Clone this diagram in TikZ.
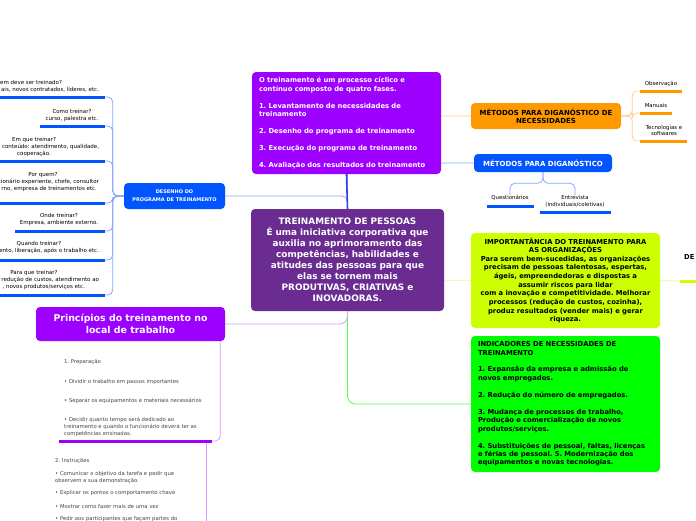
\documentclass[tikz,border=0pt]{standalone}
\usepackage{fontspec}
\setmainfont{DejaVu Sans}
\frenchspacing
\definecolor{roxo}{HTML}{6A2C91}
\definecolor{violeta}{HTML}{9D00FF}
\definecolor{azul}{HTML}{0055FF}
\definecolor{azulescuro}{HTML}{3340E6}
\definecolor{laranja}{HTML}{FF9900}
\definecolor{limao}{HTML}{CCFF00}
\definecolor{verde}{HTML}{00FF00}
\definecolor{azulclaro}{HTML}{8AA8FF}
\definecolor{laranjaclaro}{HTML}{FFCF8A}
\definecolor{limaoclaro}{HTML}{EEFFAA}
\definecolor{verdeclaro}{HTML}{55FF44}
\definecolor{violetaclaro}{HTML}{D99BFF}
\definecolor{cinza}{HTML}{444444}
\newcommand{\cutl}[2]{\makebox[#1pt][r]{#2}}
\pgfdeclarelayer{fundo}
\pgfsetlayers{fundo,main}
\begin{document}
\begin{tikzpicture}[x=1pt,y=-1pt,
    caixa/.style={rounded corners=4pt,inner sep=0pt},
    item/.style={inner sep=0pt,align=center,anchor=north,font=\fontsize{5.5}{7}\selectfont},
    lig/.style={line width=0.8pt,rounded corners=5pt},
    barra/.style={line width=3pt}]
    \useasboundingbox (0,0) rectangle (696,520);

    % central idea
    \node[caixa,fill=roxo,text=white,minimum width=193pt,minimum height=102pt,text width=187pt,align=center,
        font=\bfseries\fontsize{8.9}{11}\selectfont] (treino) at (347.5,260)
        {TREINAMENTO DE PESSOAS\\É uma iniciativa corporativa que\\auxilia no aprimoramento das\\competências, habilidades e\\atitudes das pessoas para que\\elas se tornem mais\\PRODUTIVAS, CRIATIVAS e\\INOVADORAS.};

    \node[caixa,fill=violeta,text=white,minimum width=189pt,minimum height=102pt,text width=175pt,align=left,
        font=\bfseries\fontsize{6.8}{8.5}\selectfont] (ciclo) at (346.5,123)
        {O treinamento é um processo cíclico e\\contínuo composto de quatro fases.\\[8.5pt]1. Levantamento de necessidades de\\treinamento\\[8.5pt]2. Desenho do programa de treinamento\\[8.5pt]3. Execução do programa de treinamento\\[8.5pt]4. Avaliação dos resultados do treinamento};

    \node[caixa,fill=azul,text=white,minimum width=101pt,minimum height=26pt,align=center,
        font=\bfseries\fontsize{5}{8}\selectfont] (desenho) at (174.5,196)
        {DESENHO DO\\PROGRAMA DE TREINAMENTO};

    \node[caixa,fill=laranja,minimum width=150pt,minimum height=26pt,align=center,
        font=\bfseries\fontsize{7}{8}\selectfont] (metnec) at (546,116)
        {MÉTODOS PARA DIGANÓSTICO DE\\NECESSIDADES};

    \node[caixa,fill=azul,text=white,minimum width=138pt,minimum height=18pt,
        font=\bfseries\fontsize{7}{8}\selectfont] (metdiag) at (543,163)
        {MÉTODOS PARA DIGANÓSTICO};

    \node[caixa,fill=limao,minimum width=189pt,minimum height=95pt,text width=185pt,align=center,
        font=\bfseries\fontsize{6.8}{8.65}\selectfont] (import) at (565.5,280.5)
        {IMPORTANTÂNCIA DO TREINAMENTO PARA\\AS ORGANIZAÇÕES\\Para serem bem-sucedidas, as organizações\\precisam de pessoas talentosas, espertas,\\ágeis, empreendedoras e dispostas a\\assumir riscos para lidar\\com a inovação e competitividade. Melhorar\\processos (redução de custos, cozinha),\\produz resultados (vender mais) e gerar\\riqueza.};

    \node[caixa,fill=verde,minimum width=189pt,minimum height=136pt,text width=175pt,align=left,
        font=\bfseries\fontsize{6.8}{8.45}\selectfont] (indic) at (565.5,404)
        {INDICADORES DE NECESSIDADES DE\\TREINAMENTO\\[8.45pt]1. Expansão da empresa e admissão de\\novos empregados.\\[8.45pt]2. Redução do número de empregados.\\[8.45pt]3. Mudança de processos de trabalho,\\Produção e comercialização de novos\\produtos/serviços.\\[8.45pt]4. Substituições de pessoal, faltas, licenças\\e férias de pessoal. 5. Modernização dos\\equipamentos e novas tecnologias.};

    \node[caixa,fill=violeta,text=white,minimum width=189pt,minimum height=34pt,align=center,
        font=\bfseries\fontsize{9.4}{12}\selectfont] (princ) at (130.5,324)
        {Princípios do treinamento no\\local de trabalho};

    % desenho do programa
    \node[item] (quem) at (28,80) {\cutl{68}{em deve ser treinado?}\\\cutl{142}{ais, novos contratados, líderes, etc.}};
    \node[item] (como) at (72,109) {Como treinar?\\curso, palestra etc.};
    \node[item] (emque) at (34,137) {Em que treinar?\\\cutl{130}{conteúdo: atendimento, qualidade,}\\cooperação.};
    \node[item] (porquem) at (43,172) {Por quem?\\\cutl{112}{cionário experiente, chefe, consultor}\\\cutl{108}{rno, empresa de treinamentos etc.}};
    \node[item] (onde) at (59,213) {Onde treinar?\\Empresa, ambiente externo.};
    \node[item] (quando) at (39,241) {Quando treinar?\\\cutl{120}{ento, liberação, após o trabalho etc.}};
    \node[item] (paraque) at (34,270) {Para que treinar?\\\cutl{130}{redução de custos, atendimento ao}\\\cutl{102}{, novos produtos/serviços etc.}};
    \foreach \xa/\ya/\nm in {0/97/b1,40/126/b2,0/161/b3,0/203/b4,15/231/b5,0/260/b6,0/295/b7}{
        \coordinate (\nm) at (105,\ya);
        \draw[barra,azul] (\xa,\ya) -- (\nm);
    }

    % metodos de necessidades
    \node[item,font=\fontsize{5.4}{6.5}\selectfont] (obs) at (661,81) {Observação};
    \node[item,font=\fontsize{5.4}{6.5}\selectfont] (man) at (656,103) {Manuais};
    \node[item,font=\fontsize{5.4}{6.5}\selectfont] (tec) at (664,125) {Tecnologias e\\softwares};
    \foreach \xb/\yb/\nm in {682/91/o1,672/113/o2,687/141/o3}{
        \coordinate (\nm) at (640,\yb);
        \draw[barra,laranja] (\nm) -- (\xb,\yb);
    }

    % metodos de diagnostico
    \node[item,font=\fontsize{5.4}{6.8}\selectfont] (quest) at (510,195) {Questionários};
    \node[item,font=\fontsize{5.4}{6.8}\selectfont] (entrev) at (575,195) {Entrevista\\(individuais/coletivas)};
    \draw[barra,azul] (487,206) -- (534,206);
    \draw[barra,azul] (540,212) -- (611,212);

    % filho cortado
    \node[anchor=west,inner sep=0pt,font=\bfseries\fontsize{6.8}{8}\selectfont] (de) at (684,257) {DE};
    \coordinate (d1) at (680,281);
    \draw[barra,limao] (d1) -- (700,281);

    % principios
    \node[anchor=north west,inner sep=0pt,align=left,text=cinza,font=\fontsize{5.3}{7}\selectfont] (prep) at (64,359)
        {1. Preparação\\[13pt]• Dividir o trabalho em passos importantes\\[12pt]• Separar os equipamentos e materiais necessários\\[12pt]• Decidir quanto tempo será dedicado ao\\treinamento e quando o funcionário deverá ter as\\competências ensinadas.};
    \node[anchor=north west,inner sep=0pt,align=left,text=cinza,font=\fontsize{5.3}{7}\selectfont] (instr) at (55,458)
        {2. Instruções\\[6pt]• Comunicar o objetivo da tarefa e pedir que\\observem a sua demonstração.\\[5pt]• Explicar os pontos o comportamento chave\\[7pt]• Mostrar como fazer mais de uma vez\\[5pt]• Pedir aos participantes que façam partes do};
    \coordinate (p1) at (212,441);
    \coordinate (p2) at (206,441);
    \draw[barra,violeta] (59,441) -- (p1);

    \begin{pgfonlayer}{fundo}
        \fill[white] (0,0) rectangle (696,520);
        \draw[lig,azulclaro] (desenho.east) -| (treino.north);
        \draw[lig,laranjaclaro] (treino.north) |- (metnec.west);
        \draw[lig,azulclaro] (treino.north) |- (metdiag.west);
        \draw[line width=1.6pt,azulescuro] (treino.north) -- (ciclo.south);
        \draw[lig,limaoclaro,line width=1.2pt] (import.west -| treino.east) -- (import.west);
        \draw[lig,limaoclaro,line width=1.2pt] (import.east) -- (d1);
        \draw[lig,verdeclaro,rounded corners=8pt] (treino.south) |- (indic.west);
        \draw[lig,violetaclaro,rounded corners=8pt] (treino.south) |- (princ.east);
        \foreach \b in {b1,b2,b3,b4,b5,b6,b7}
            \draw[lig,azulclaro] (desenho.west) -- ++(-11,0) |- (\b);
        \foreach \o in {o1,o2,o3}
            \draw[lig,laranjaclaro] (metnec.east) -- ++(11,0) |- (\o);
        \draw[lig,azulclaro] (metdiag.south) -- ++(0,11) -| (quest.north);
        \draw[lig,azulclaro] (metdiag.south) -- ++(0,11) -| (entrev.north);
        \draw[lig,violetaclaro] (princ.south east) ++(-5,0) |- (p1);
        \draw[lig,violetaclaro] (p2) -- ++(0,90);
    \end{pgfonlayer}
\end{tikzpicture}
\end{document}
